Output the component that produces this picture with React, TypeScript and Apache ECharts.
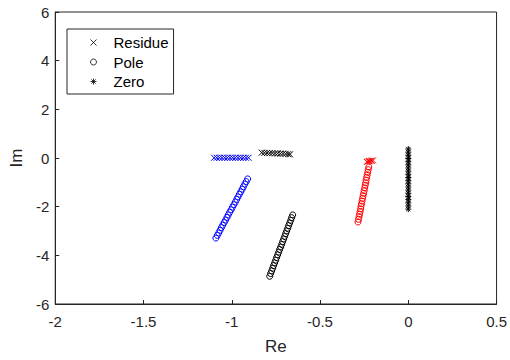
import React, { useEffect, useRef } from 'react';
import * as echarts from 'echarts';

// ---- data ----
const blueResidueRe = [-1.10, -1.085, -1.07, -1.055, -1.04, -1.025, -1.01, -0.995, -0.98, -0.965, -0.95, -0.935, -0.92, -0.905];
const blueResidueIm = [0.01, 0.01, 0.01, 0.01, 0.01, 0.01, 0.01, 0.01, 0.01, 0.01, 0.01, 0.01, 0.01, 0.01];

const blackResidueRe = [-0.83, -0.815, -0.80, -0.785, -0.77, -0.755, -0.74, -0.725, -0.71, -0.695, -0.68, -0.67];
const blackResidueIm = [0.22, 0.21, 0.21, 0.20, 0.20, 0.19, 0.19, 0.18, 0.18, 0.17, 0.16, 0.15];

const redResidueRe = [-0.235, -0.228, -0.222, -0.215, -0.208, -0.200];
const redResidueIm = [-0.16, -0.14, -0.13, -0.12, -0.11, -0.10];

const bluePoleRe = [-0.910, -0.918, -0.926, -0.934, -0.941, -0.949, -0.957, -0.965, -0.972, -0.980, -0.988, -0.996, -1.004, -1.012, -1.020, -1.027, -1.035, -1.043, -1.051, -1.059, -1.066, -1.074, -1.082, -1.090];
const bluePoleIm = [-0.86, -0.97, -1.07, -1.18, -1.28, -1.39, -1.49, -1.60, -1.70, -1.81, -1.92, -2.02, -2.13, -2.23, -2.34, -2.44, -2.55, -2.65, -2.76, -2.86, -2.97, -3.08, -3.18, -3.29];

const blackPoleRe = [-0.655, -0.661, -0.666, -0.672, -0.678, -0.683, -0.689, -0.695, -0.700, -0.706, -0.712, -0.717, -0.723, -0.729, -0.734, -0.740, -0.746, -0.751, -0.757, -0.763, -0.768, -0.774, -0.780, -0.785];
const blackPoleIm = [-2.34, -2.45, -2.56, -2.67, -2.78, -2.89, -3.00, -3.11, -3.22, -3.33, -3.44, -3.55, -3.66, -3.76, -3.87, -3.98, -4.09, -4.20, -4.31, -4.42, -4.53, -4.64, -4.75, -4.86];

const redPoleRe = [-0.224, -0.227, -0.230, -0.233, -0.236, -0.239, -0.241, -0.244, -0.247, -0.250, -0.253, -0.256, -0.259, -0.262, -0.265, -0.268, -0.270, -0.273, -0.276, -0.279, -0.282, -0.285];
const redPoleIm = [-0.37, -0.48, -0.59, -0.69, -0.80, -0.91, -1.02, -1.12, -1.23, -1.34, -1.45, -1.55, -1.66, -1.77, -1.88, -1.98, -2.09, -2.20, -2.31, -2.41, -2.52, -2.63];

const zeroRe = [0, 0, 0, 0, 0, 0, 0, 0, 0, 0, 0, 0, 0, 0, 0, 0, 0, 0, 0, 0];
const zeroIm = [0.37, 0.24, 0.11, -0.02, -0.15, -0.28, -0.41, -0.54, -0.67, -0.80, -0.93, -1.06, -1.19, -1.32, -1.45, -1.58, -1.71, -1.84, -1.97, -2.10];

const legendNames = ['Residue', 'Pole', 'Zero'];
const xMin = -2, xMax = 0.5, xStep = 0.5;
const yMin = -6, yMax = 6, yStep = 2;

const CROSS = 'path://M0,0L10,10M10,0L0,10';
const STAR = 'path://M5,0L5,10M0,5L10,5M1.5,1.5L8.5,8.5M8.5,1.5L1.5,8.5';
const FONT = 'Liberation Sans, Arial, Helvetica, sans-serif';
const TXT = '#262626';
const AX = '#262626';
const legendIcons = [CROSS, 'circle', STAR];

const zip = (a: number[], b: number[]) => a.map((v, i) => [v, b[i]]);

const sc = (name: string, symbol: string, color: string, data: number[][]) => ({
  name,
  type: 'scatter',
  symbol,
  symbolSize: 6,
  silent: true,
  itemStyle: { color: 'none', borderColor: color, borderWidth: 1, opacity: 1 },
  data,
});

export default function App() {
  const ref = useRef<HTMLDivElement>(null);
  useEffect(() => {
    if (!ref.current) return;
    const chart = echarts.init(ref.current, undefined, { renderer: 'svg' });
    chart.setOption({
      animation: false,
      backgroundColor: '#ffffff',
      textStyle: { fontFamily: FONT },
      grid: { left: 48, top: 12, width: 449, height: 292, show: true, borderColor: AX, borderWidth: 1, containLabel: false },
      legend: {
        data: legendNames.map((n, i) => ({
          name: n,
          icon: legendIcons[i],
          itemStyle: { color: 'none', borderColor: '#000', borderWidth: 0.8 },
        })),
        orient: 'vertical',
        left: 67,
        top: 29,
        itemWidth: 6,
        itemHeight: 6,
        itemGap: 4.5,
        padding: [6, 5, 5, 21],
        borderColor: AX,
        borderWidth: 1,
        backgroundColor: '#fff',
        selectedMode: false,
        itemStyle: { color: 'none', borderColor: '#000', borderWidth: 0.8 },
        textStyle: { fontSize: 15, color: '#000', fontFamily: FONT, padding: [0, 0, 0, 12] },
      },
      xAxis: {
        type: 'value', min: xMin, max: xMax, interval: xStep,
        name: 'Re', nameLocation: 'middle', nameGap: 34,
        nameTextStyle: { fontSize: 17, color: TXT, fontFamily: FONT },
        axisLine: { show: true, onZero: false, lineStyle: { color: AX, width: 1 } },
        axisTick: { show: true, inside: true, length: 4, lineStyle: { color: AX } },
        axisLabel: { fontSize: 15, color: TXT, margin: 10, fontFamily: FONT },
        splitLine: { show: false },
      },
      yAxis: {
        type: 'value', min: yMin, max: yMax, interval: yStep,
        name: 'Im', nameLocation: 'middle', nameGap: 27, nameRotate: 90,
        nameTextStyle: { fontSize: 17, color: TXT, fontFamily: FONT },
        axisLine: { show: true, onZero: false, lineStyle: { color: AX, width: 1 } },
        axisTick: { show: true, inside: true, length: 4, lineStyle: { color: AX } },
        axisLabel: { fontSize: 15, color: TXT, margin: 6, fontFamily: FONT },
        splitLine: { show: false },
      },
      series: [
        sc('Residue', CROSS, '#000000', []),
        sc('Pole', 'circle', '#000000', []),
        sc('Zero', STAR, '#000000', []),
        sc('bluePole', 'circle', '#0000ff', zip(bluePoleRe, bluePoleIm)),
        sc('blackPole', 'circle', '#000000', zip(blackPoleRe, blackPoleIm)),
        sc('redPole', 'circle', '#ff0000', zip(redPoleRe, redPoleIm)),
        sc('blueResidue', CROSS, '#0000ff', zip(blueResidueRe, blueResidueIm)),
        sc('blackResidue', CROSS, '#000000', zip(blackResidueRe, blackResidueIm)),
        sc('redResidue', CROSS, '#ff0000', zip(redResidueRe, redResidueIm)),
        sc('zero', STAR, '#000000', zip(zeroRe, zeroIm)),
      ],
    });
    return () => chart.dispose();
  }, []);
  return <div ref={ref} style={{ position: 'fixed', left: 0, top: 0, width: 510, height: 360 }} />;
}
